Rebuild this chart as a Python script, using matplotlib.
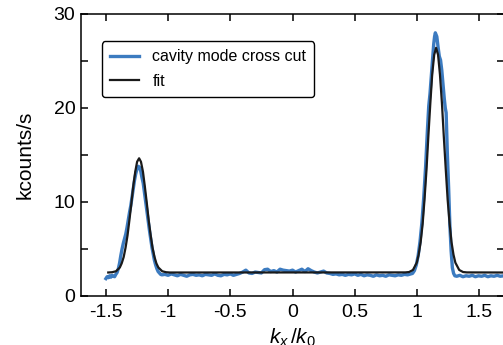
import matplotlib
matplotlib.use("Agg")
import matplotlib.pyplot as plt
from matplotlib.ticker import MultipleLocator

plt.rcParams['font.family'] = ['Liberation Sans', 'DejaVu Sans']
plt.rcParams['mathtext.fontset'] = 'custom'
plt.rcParams['mathtext.it'] = 'Liberation Sans:italic'
plt.rcParams['mathtext.rm'] = 'Liberation Sans'

# measured cross cut (kcounts/s)
cut_x = [-1.500, -1.490, -1.480, -1.470, -1.460, -1.450, -1.440, -1.430, -1.420, -1.410,
         -1.400, -1.390, -1.380, -1.370, -1.360, -1.350, -1.340, -1.330, -1.320, -1.310,
         -1.300, -1.290, -1.280, -1.270, -1.260, -1.250, -1.240, -1.230, -1.220, -1.210,
         -1.200, -1.190, -1.180, -1.170, -1.160, -1.150, -1.140, -1.130, -1.120, -1.110,
         -1.100, -1.090, -1.080, -1.070, -1.060,
         -1.050, -1.025, -1.000, -0.975, -0.950, -0.925, -0.900, -0.875, -0.850, -0.825,
         -0.800, -0.775, -0.750, -0.725, -0.700, -0.675, -0.650, -0.625, -0.600, -0.575,
         -0.550, -0.525, -0.500, -0.475, -0.450, -0.425, -0.400, -0.375, -0.350, -0.325,
         -0.300, -0.275, -0.250, -0.225, -0.200, -0.175, -0.150, -0.125, -0.100, -0.075,
         -0.050, -0.025, 0.000, 0.025, 0.050, 0.075, 0.100, 0.125, 0.150, 0.175,
         0.200, 0.225, 0.250, 0.275, 0.300, 0.325, 0.350, 0.375, 0.400, 0.425,
         0.450, 0.475, 0.500, 0.525, 0.550, 0.575, 0.600, 0.625, 0.650, 0.675,
         0.700, 0.725, 0.750, 0.775, 0.800, 0.825, 0.850, 0.875, 0.900, 0.925,
         0.950, 0.965, 0.980, 0.995, 1.010, 1.025, 1.040, 1.055, 1.070, 1.085,
         1.095, 1.105, 1.115, 1.125, 1.135, 1.142, 1.148, 1.160, 1.170, 1.180,
         1.190, 1.200, 1.210, 1.220, 1.228, 1.235, 1.245, 1.255, 1.265, 1.275,
         1.285, 1.295, 1.305, 1.320, 1.345, 1.370, 1.395, 1.420, 1.445, 1.470,
         1.495, 1.520, 1.545, 1.570, 1.595, 1.620, 1.645, 1.670, 1.700]
cut_y = [1.85, 2.05, 1.95, 2.15, 2.00, 2.20, 2.10, 2.05, 2.30, 2.50,
         2.90, 3.50, 4.30, 5.00, 5.60, 6.10, 6.60, 7.30, 8.10, 8.90,
         9.60, 10.5, 11.4, 12.3, 13.0, 13.5, 13.8, 13.7, 13.3, 12.6,
         12.0, 11.0, 10.0, 9.00, 8.00, 7.00, 6.10, 5.20, 4.50, 3.80,
         3.30, 2.90, 2.60, 2.45, 2.30,
         2.25, 2.30, 2.20, 2.35, 2.25, 2.15, 2.30, 2.20, 2.10, 2.25,
         2.30, 2.20, 2.25, 2.15, 2.30, 2.25, 2.20, 2.35, 2.20, 2.15,
         2.30, 2.25, 2.35, 2.20, 2.30, 2.40, 2.55, 2.75, 2.45, 2.40,
         2.55, 2.50, 2.45, 2.80, 2.85, 2.60, 2.70, 2.55, 2.85, 2.75,
         2.70, 2.65, 2.75, 2.55, 2.70, 2.85, 2.60, 2.90, 2.70, 2.55,
         2.45, 2.55, 2.65, 2.45, 2.40, 2.30, 2.35, 2.25, 2.30, 2.20,
         2.30, 2.25, 2.35, 2.20, 2.30, 2.15, 2.25, 2.20, 2.10, 2.25,
         2.15, 2.20, 2.10, 2.25, 2.20, 2.15, 2.25, 2.20, 2.30, 2.25,
         2.35, 2.40, 2.70, 3.30, 4.30, 5.80, 7.80, 10.5, 13.8, 17.8,
         20.2, 21.5, 23.3, 25.2, 26.8, 27.6, 28.0, 27.6, 26.5, 25.5,
         25.1, 24.0, 22.5, 21.0, 20.0, 19.5, 15.0, 11.5, 7.50, 4.80,
         3.00, 2.40, 2.15, 2.10, 2.20, 2.05, 2.15, 2.10, 2.20, 2.05,
         2.15, 2.10, 2.20, 2.05, 2.15, 2.10, 2.20, 2.10, 2.15]

# fitted curve
fit_x = [-1.481, -1.450, -1.419, -1.388, -1.373, -1.357, -1.342, -1.326, -1.311, -1.295,
         -1.280, -1.264, -1.249, -1.233, -1.218, -1.202, -1.187, -1.171, -1.156, -1.140,
         -1.125, -1.109, -1.094, -1.078, -1.047, -1.016, -0.985,
         0.906, 0.937, 0.968, 0.999, 1.014, 1.030, 1.046, 1.061, 1.077, 1.092,
         1.108, 1.123, 1.139, 1.154, 1.170, 1.185, 1.201, 1.216, 1.232, 1.247,
         1.263, 1.278, 1.294, 1.309, 1.340, 1.371, 1.402, 1.700]
fit_y = [2.50, 2.53, 2.63, 3.03, 3.47, 4.14, 5.13, 6.45, 8.06, 9.87,
         11.67, 13.22, 14.28, 14.65, 14.28, 13.22, 11.67, 9.87, 8.06, 6.45,
         5.13, 4.14, 3.47, 3.03, 2.63, 2.53, 2.50,
         2.51, 2.55, 2.77, 3.55, 4.40, 5.73, 7.67, 10.26, 13.44, 17.00,
         20.54, 23.59, 25.66, 26.40, 25.66, 23.59, 20.54, 17.00, 13.44, 10.26,
         7.67, 5.73, 4.40, 3.55, 2.77, 2.55, 2.51, 2.50]

fig = plt.figure(figsize=(5.03, 3.45), dpi=100)
ax = fig.add_axes([81 / 503, 49 / 345, 423 / 503, 282 / 345])

ax.plot(cut_x, cut_y, color='#3C7BC0', lw=2.4, label='cavity mode cross cut')
ax.plot(fit_x, fit_y, color='#1a1a1a', lw=1.6, label='fit')

ax.set_xlim(-1.7, 1.7)
ax.set_ylim(0, 30)
ax.set_xticks([-1.5, -1, -0.5, 0, 0.5, 1, 1.5])
ax.set_xticklabels(['-1.5', '-1', '-0.5', '0', '0.5', '1', '1.5'])
ax.yaxis.set_major_locator(MultipleLocator(10))
ax.yaxis.set_minor_locator(MultipleLocator(5))
ax.tick_params(which='both', direction='in', top=True, right=True, labelsize=14, width=1.1)
ax.tick_params(which='major', length=5)
ax.tick_params(which='minor', length=5)
ax.tick_params(axis='y', pad=4)
ax.tick_params(axis='x', pad=6)
for s in ax.spines.values():
    s.set_linewidth(1.1)

ax.set_ylabel('kcounts/s', fontsize=15, labelpad=14)
ax.set_xlabel('$k_x\\,/k_0$', fontsize=15, labelpad=4)

leg = ax.legend(loc='upper left', bbox_to_anchor=(0.05, 0.903), borderaxespad=0,
                fontsize=11.5, handlelength=1.8, handletextpad=0.85, labelspacing=0.6,
                borderpad=0.5, fancybox=True, framealpha=1)
leg.get_frame().set_edgecolor('black')
leg.get_frame().set_linewidth(1.0)

fig.savefig('out.png', dpi=100)
